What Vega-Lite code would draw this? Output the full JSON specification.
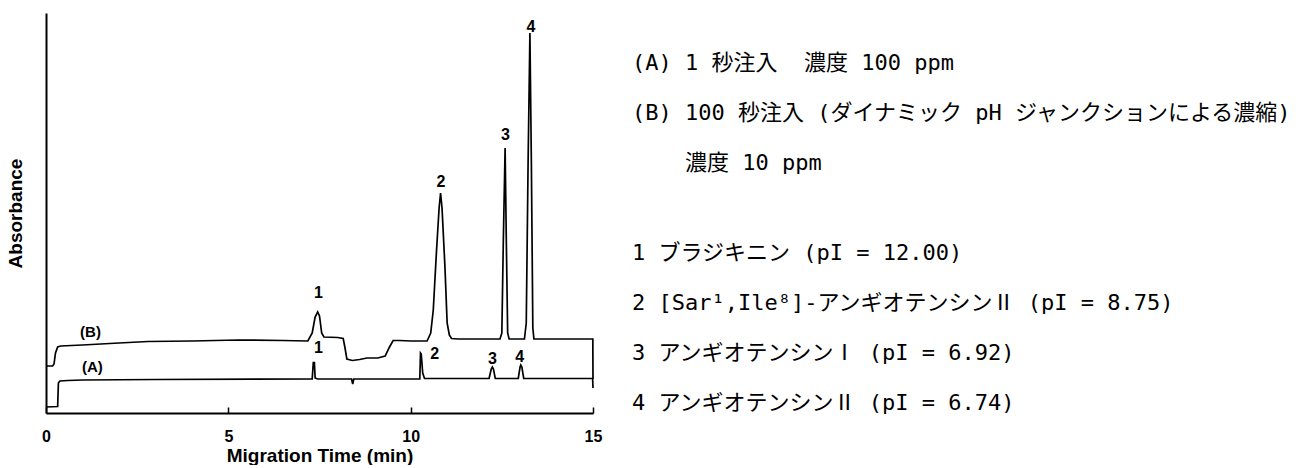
{
  "$schema": "https://vega.github.io/schema/vega-lite/v6.json",
  "background": "white",
  "padding": {"left": 6, "top": 13, "right": 0, "bottom": 0},
  "spacing": 30,
  "config": {
    "view": {"stroke": null},
    "font": "Liberation Sans",
    "axis": {"domainColor": "black", "domainWidth": 2, "tickColor": "black", "grid": false}
  },
  "hconcat": [
    {
      "width": 547,
      "height": 400,
      "layer": [
        {
          "data": {"values": [
            {"series": "A", "t": 0, "a": 6},
            {"series": "A", "t": 0.32, "a": 6.5},
            {"series": "A", "t": 0.34, "a": 30},
            {"series": "A", "t": 0.38, "a": 32},
            {"series": "A", "t": 0.6, "a": 32.5},
            {"series": "A", "t": 1.0, "a": 33},
            {"series": "A", "t": 3.0, "a": 33.5},
            {"series": "A", "t": 7.3, "a": 34},
            {"series": "A", "t": 7.33, "a": 50.5},
            {"series": "A", "t": 7.36, "a": 50.5},
            {"series": "A", "t": 7.38, "a": 35},
            {"series": "A", "t": 7.45, "a": 34},
            {"series": "A", "t": 8.38, "a": 34},
            {"series": "A", "t": 8.41, "a": 29},
            {"series": "A", "t": 8.44, "a": 34},
            {"series": "A", "t": 10.25, "a": 34},
            {"series": "A", "t": 10.27, "a": 60},
            {"series": "A", "t": 10.29, "a": 59},
            {"series": "A", "t": 10.33, "a": 40},
            {"series": "A", "t": 10.38, "a": 34.5},
            {"series": "A", "t": 12.15, "a": 34.5},
            {"series": "A", "t": 12.21, "a": 44},
            {"series": "A", "t": 12.24, "a": 46},
            {"series": "A", "t": 12.27, "a": 44},
            {"series": "A", "t": 12.32, "a": 34.5},
            {"series": "A", "t": 12.95, "a": 34.5},
            {"series": "A", "t": 13.0, "a": 46},
            {"series": "A", "t": 13.02, "a": 48},
            {"series": "A", "t": 13.05, "a": 46},
            {"series": "A", "t": 13.1, "a": 34.5},
            {"series": "A", "t": 14.99, "a": 34.5},
            {"series": "A", "t": 15.0, "a": 25},
            {"series": "B", "t": 0, "a": 47},
            {"series": "B", "t": 0.18, "a": 47},
            {"series": "B", "t": 0.22, "a": 49},
            {"series": "B", "t": 0.26, "a": 60},
            {"series": "B", "t": 0.32, "a": 66},
            {"series": "B", "t": 0.4, "a": 67},
            {"series": "B", "t": 1.0, "a": 68},
            {"series": "B", "t": 2.0, "a": 70},
            {"series": "B", "t": 2.8, "a": 71.5},
            {"series": "B", "t": 4.0, "a": 72},
            {"series": "B", "t": 5.27, "a": 73},
            {"series": "B", "t": 6.5, "a": 72.5},
            {"series": "B", "t": 7.18, "a": 72},
            {"series": "B", "t": 7.3, "a": 80},
            {"series": "B", "t": 7.38, "a": 96},
            {"series": "B", "t": 7.45, "a": 101},
            {"series": "B", "t": 7.5, "a": 97},
            {"series": "B", "t": 7.56, "a": 80},
            {"series": "B", "t": 7.62, "a": 76},
            {"series": "B", "t": 8.0, "a": 75.5},
            {"series": "B", "t": 8.15, "a": 74.5},
            {"series": "B", "t": 8.2, "a": 65},
            {"series": "B", "t": 8.25, "a": 54},
            {"series": "B", "t": 8.4, "a": 52.5},
            {"series": "B", "t": 8.6, "a": 53.5},
            {"series": "B", "t": 8.8, "a": 55},
            {"series": "B", "t": 9.1, "a": 55},
            {"series": "B", "t": 9.3, "a": 57},
            {"series": "B", "t": 9.42, "a": 66},
            {"series": "B", "t": 9.52, "a": 72.5},
            {"series": "B", "t": 9.7, "a": 72.5},
            {"series": "B", "t": 10.0, "a": 72},
            {"series": "B", "t": 10.45, "a": 72},
            {"series": "B", "t": 10.55, "a": 80},
            {"series": "B", "t": 10.62, "a": 103},
            {"series": "B", "t": 10.71, "a": 163},
            {"series": "B", "t": 10.78, "a": 205},
            {"series": "B", "t": 10.82, "a": 220},
            {"series": "B", "t": 10.86, "a": 205},
            {"series": "B", "t": 10.94, "a": 146},
            {"series": "B", "t": 11.0, "a": 90},
            {"series": "B", "t": 11.06, "a": 78},
            {"series": "B", "t": 11.12, "a": 74.5},
            {"series": "B", "t": 11.3, "a": 74},
            {"series": "B", "t": 12.45, "a": 74},
            {"series": "B", "t": 12.5, "a": 80},
            {"series": "B", "t": 12.54, "a": 170},
            {"series": "B", "t": 12.59, "a": 265},
            {"series": "B", "t": 12.62, "a": 180},
            {"series": "B", "t": 12.66, "a": 80},
            {"series": "B", "t": 12.7, "a": 74},
            {"series": "B", "t": 13.12, "a": 74},
            {"series": "B", "t": 13.17, "a": 90},
            {"series": "B", "t": 13.22, "a": 250},
            {"series": "B", "t": 13.27, "a": 380},
            {"series": "B", "t": 13.31, "a": 250},
            {"series": "B", "t": 13.35, "a": 85},
            {"series": "B", "t": 13.38, "a": 74},
            {"series": "B", "t": 14.995, "a": 74},
            {"series": "B", "t": 15.0, "a": 34}
          ]},
          "mark": {"type": "line", "color": "black", "strokeWidth": 1.7, "clip": false},
          "encoding": {
            "x": {"field": "t", "type": "quantitative",
                  "scale": {"domain": [0, 15], "nice": false, "zero": false},
                  "axis": {"values": [0, 5, 10, 15], "title": "Migration Time (min)",
                           "tickSize": -6, "tickWidth": 1.5, "labelPadding": 21,
                           "labelFontSize": 16, "labelFontWeight": "bold", "labelColor": "black",
                           "labelFlush": false, "titleFontSize": 19, "titleFontWeight": "bold",
                           "titleColor": "black", "titlePadding": 2}},
            "y": {"field": "a", "type": "quantitative",
                  "scale": {"domain": [0, 400], "nice": false},
                  "axis": {"ticks": false, "labels": false, "title": "Absorbance",
                           "titleFontSize": 19, "titleFontWeight": "bold", "titleColor": "black",
                           "titlePadding": 21}},
            "detail": {"field": "series"}
          }
        },
        {
          "data": {"values": [
            {"t": 7.47, "a": 120, "label": "1"},
            {"t": 10.83, "a": 231, "label": "2"},
            {"t": 12.6, "a": 278, "label": "3"},
            {"t": 13.3, "a": 386, "label": "4"},
            {"t": 7.47, "a": 65, "label": "1"},
            {"t": 10.66, "a": 59, "label": "2"},
            {"t": 12.24, "a": 54, "label": "3"},
            {"t": 12.99, "a": 56, "label": "4"}
          ]},
          "mark": {"type": "text", "fontWeight": "bold", "fontSize": 16, "color": "black",
                   "baseline": "middle", "align": "center"},
          "encoding": {
            "x": {"field": "t", "type": "quantitative"},
            "y": {"field": "a", "type": "quantitative"},
            "text": {"field": "label"}
          }
        },
        {
          "data": {"values": [
            {"t": 1.22, "a": 81, "label": "(B)"},
            {"t": 1.27, "a": 46.5, "label": "(A)"}
          ]},
          "mark": {"type": "text", "fontWeight": "bold", "fontSize": 15, "color": "black",
                   "baseline": "middle", "align": "center"},
          "encoding": {
            "x": {"field": "t", "type": "quantitative"},
            "y": {"field": "a", "type": "quantitative"},
            "text": {"field": "label"}
          }
        }
      ]
    },
    {
      "width": 674,
      "height": 400,
      "data": {"values": [
        {"line": 1, "indented": false, "text": "(A) 1 秒注入\u00a0\u00a0濃度 100 ppm"},
        {"line": 2, "indented": false, "text": "(B) 100 秒注入 (ダイナミック pH ジャンクションによる濃縮)"},
        {"line": 3, "indented": true, "text": "濃度 10 ppm"},
        {"line": 4.8, "indented": false, "text": "1 ブラジキニン (pI = 12.00)"},
        {"line": 5.8, "indented": false, "text": "2 [Sar¹,Ile⁸]-アンギオテンシンⅡ (pI = 8.75)"},
        {"line": 6.8, "indented": false, "text": "3 アンギオテンシンⅠ (pI = 6.92)"},
        {"line": 7.8, "indented": false, "text": "4 アンギオテンシンⅡ (pI = 6.74)"}
      ]},
      "layer": [
        {
          "transform": [{"filter": "!datum.indented"}],
          "mark": {"type": "text", "font": "DejaVu Sans Mono, Noto Sans CJK JP", "fontSize": 22,
                   "align": "left", "baseline": "middle", "color": "black"},
          "encoding": {
            "y": {"field": "line", "type": "quantitative",
                  "scale": {"domain": [0, 8], "reverse": true, "nice": false}, "axis": null},
            "x": {"value": 0},
            "text": {"field": "text"}
          }
        },
        {
          "transform": [{"filter": "datum.indented"}],
          "mark": {"type": "text", "font": "DejaVu Sans Mono, Noto Sans CJK JP", "fontSize": 22,
                   "align": "left", "baseline": "middle", "color": "black", "dx": 53},
          "encoding": {
            "y": {"field": "line", "type": "quantitative",
                  "scale": {"domain": [0, 8], "reverse": true, "nice": false}, "axis": null},
            "x": {"value": 0},
            "text": {"field": "text"}
          }
        }
      ]
    }
  ]
}
